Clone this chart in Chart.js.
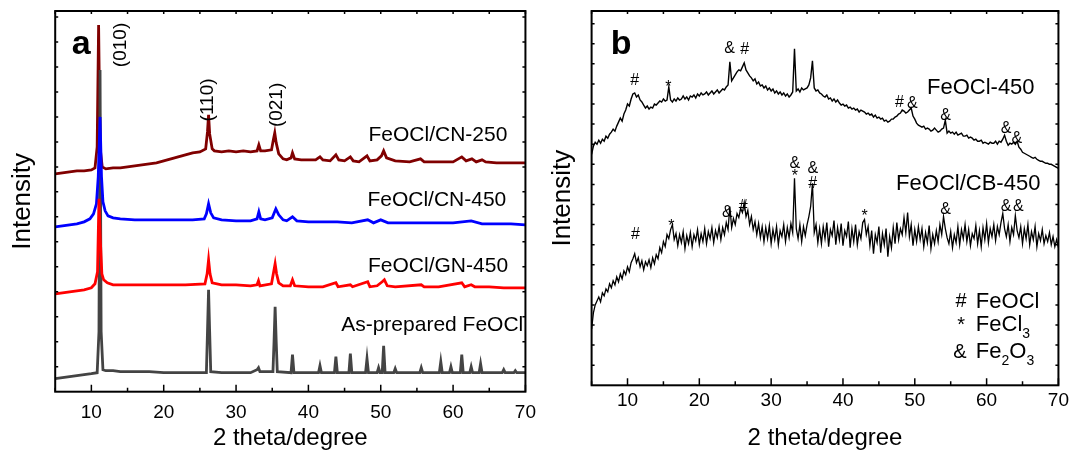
<!DOCTYPE html>
<html>
<head>
<meta charset="utf-8">
<script src="https://cdn.jsdelivr.net/npm/chart.js"></script>
<style>
  body { margin: 0; background: #fff; overflow: hidden; }
  #wrap { position: relative; width: 1071px; height: 450px; overflow: hidden; }
  #wrap canvas { position: absolute; top: 0; }
</style>
</head>
<body>
<div id="wrap">
  <canvas id="panelA" width="546" height="450" style="left:0"></canvas>
  <canvas id="panelB" width="538" height="450" style="left:535px"></canvas>
</div>
<script>
// ---- data, panel a (2 theta, intensity with offsets) ----
const cn250 = [[5,218],[6,219],[7,220],[8,221],[9,221],[10,222],[10.5,224],[10.8,245],[11.0,367],[11.2,245],[11.5,225],[12,223],
  [13,224],[14,224],[15,225],[16,226],[17,227],[18,228],[19,229],[20,231],[21,233],[22,235],[23,237],[24,239],[25,240],
  [25.8,243],[26.05,260],[26.2,277],[26.35,258],[26.7,243],[27,241],[28,240],[29,241],[30,240],[31,241],[32,240],
  [32.9,241],[33.15,247],[33.4,241],[34,241],[34.9,242],[35.15,252],[35.35,259],[35.55,249],[35.9,238],[36.5,233],
  [37,232],[37.6,234],[37.8,239],[38.1,233],[39,232],[40,232],[41,232],[41.6,235],[42,232],[43,231],[43.8,237],[44.2,232],
  [45,231],[45.8,235],[46.2,231],[47,230],[48.1,236],[48.5,231],[49.5,232],[50.1,236],[50.4,241],[50.8,234],[52,231],
  [54,230],[55.5,233],[56,230],[58,230],[60,230],[61.2,235],[61.8,231],[62.6,233],[63.2,230],[64,232],[64.5,230],
  [66,229],[68,229],[70,229]];
const cn450 = [[5,165],[6,166],[7,167],[8,168],[9,170],[9.8,173],[10.3,178],[10.7,188],[10.95,215],[11.2,275],[11.4,215],
  [11.6,190],[11.9,181],[12.3,176],[13,174],[14,173],[16,172],[18,172],[20,172],[22,172],[24,172],[25.6,173],[25.9,178],
  [26.2,188],[26.5,179],[26.9,174],[28,172],[30,171],[32,171],[32.9,173],[33.15,180],[33.4,173],[34,172],[35,174],
  [35.5,183],[35.9,177],[36.5,172],[37,171],[37.8,175],[38.4,171],[40,170],[42,170],[44,170],[46,169],[48.2,172],
  [49,169],[50,172],[51,169],[54,169],[57,169],[60,169],[62.5,171],[64,168],[66,168],[68,168],[70,167]];
const gn450 = [[5,98],[6,99],[7,100],[8,101],[9,102],[10,104],[10.5,108],[10.85,120],[11.05,193],[11.25,150],[11.45,118],
  [11.7,112],[12.2,109],[13,107],[15,107],[17,107],[19,107],[21,107],[23,107],[25.7,108],[26.0,118],[26.2,132],
  [26.4,118],[26.7,109],[28,107],[30,107],[32,106],[32.9,107],[33.1,111],[33.3,106],[34.9,108],[35.2,120],[35.4,128],
  [35.6,118],[35.9,109],[36.5,106],[37.5,106],[37.8,112],[38.1,106],[40,105],[42,105],[43.8,109],[44.1,105],[45.8,107],
  [46.1,105],[48.2,110],[48.5,105],[49.5,106],[50.2,110],[50.5,112],[50.9,106],[52,105],[55.6,107],[56,105],[58,105],
  [61.2,109],[61.6,105],[62.5,107],[63,105],[65,105],[67,104],[70,104]];
const asPrepared = [[5,13],[6,14],[7,15],[8,16],[9,17],[10,18],[10.8,19],[11.05,60],[11.2,322],[11.35,60],[11.6,22],
  [12,21],[13,21],[14,20],[16,20],[18,20],[20,19],[22,19],[24,19],[25.9,19],[26.05,60],[26.2,102],[26.35,60],[26.5,20],
  [28,19],[30,19],[32,19],[32.9,22],[33.1,24],[33.3,20],[35.1,20],[35.25,50],[35.4,85],[35.55,50],[35.7,20],[37.6,19],
  [37.8,37],[38.0,19],[41.4,19],[41.6,26],[41.8,19],[43.6,19],[43.8,35],[44.0,19],[45.6,19],[45.8,38],[46.0,19],
  [47.9,19],[48.1,33],[48.3,19],[49.5,19],[49.7,24],[49.9,19],[50.2,19],[50.4,46],[50.6,19],[51.8,19],[52,23],[52.2,19],
  [55.4,19],[55.6,24],[55.8,19],[58.1,19],[58.3,30],[58.5,19],[59.5,19],[59.7,25],[59.9,19],[61,19],[61.2,37],[61.4,19],
  [62.3,19],[62.5,25],[62.7,19],[63.6,19],[63.8,28],[64,19],[66.8,19],[67,22],[67.2,19],[68.4,19],[68.6,21],[68.8,19],[70,19]];

// ---- data, panel b (0.25 degree steps from 5 to 70) ----
const fe450 = [
  230,238,242,240,244,241,245,243, 248,246,250,252,255,253,258,262,
  266,263,270,274,280,278,285,290, 291,287,289,284,282,279,276,278,
  275,277,276,280,279,281,283,282, 285,283,284,297,284,282,285,283,
  286,284,285,288,285,287,284,288, 287,289,286,290,288,291,289,290,
  292,289,291,293,290,292,294,291, 293,295,294,297,299,322,303,306,
  309,312,314,313,317,321,314,311, 308,306,303,305,300,302,298,299,
  296,298,294,296,293,295,291,293, 290,292,289,291,288,290,287,289,
  292,335,293,295,292,296,294,295, 296,299,306,323,296,293,294,291,
  290,288,287,289,285,286,283,285, 282,284,281,279,280,278,279,276,
  277,275,276,274,275,272,274,273, 272,270,271,269,270,267,269,266,
  267,265,266,263,264,262,263,265, 265,267,268,270,271,274,273,271,
  272,274,276,268,265,261,259,258, 257,258,255,256,255,253,254,256,
  254,252,253,255,256,264,251,253, 251,252,250,252,249,250,251,248,
  248,249,246,247,246,244,245,243, 243,244,241,242,241,240,242,241,
  241,243,240,243,242,245,249,243, 239,241,240,242,240,243,237,235,
  232,231,230,229,228,227,226,227, 225,224,223,223,222,221,221,220,
  220,219,218,217,216];
const cb450 = [
  56,72,80,84,88,83,92,89, 96,93,101,97,104,100,108,103,
  111,106,114,110,118,113,122,126, 131,122,127,118,124,115,123,119,
  125,117,127,121,130,126,137,132, 143,138,150,146,155,160,145,151,
  139,150,142,153,136,149,141,152, 138,150,144,155,140,151,143,156,
  141,153,146,157,142,154,147,158, 145,157,150,162,155,178,157,166,
  160,171,167,176,172,182,168,174, 160,168,155,163,150,161,147,158,
  143,157,146,159,141,155,145,158, 140,154,148,160,143,157,147,161,
  152,206,156,146,160,143,158,149, 160,168,178,201,152,160,142,156,
  141,158,146,162,138,155,149,164, 140,157,145,161,139,154,148,163,
  137,156,143,160,140,153,146,162, 165,150,158,139,154,131,150,142,
  158,132,151,140,156,128,148,137, 157,141,162,145,156,150,167,152,
  172,148,160,139,155,143,158,145, 156,138,152,142,159,136,150,141,
  154,143,160,150,168,156,147,141, 153,137,150,142,158,140,155,146,
  160,143,155,139,151,146,159,141, 154,138,157,145,161,142,156,148,
  160,144,158,150,162,171,156,148, 160,143,157,150,169,154,147,158,
  141,156,146,160,140,153,145,158, 138,151,144,155,141,149,143,152,
  140,148,138,145,137];
const thetaB = fe450.map((_, i) => 5 + i * 0.25);

const xTicks = [10, 20, 30, 40, 50, 60, 70];
const xMinor = [5, 15, 25, 35, 45, 55, 65];

const FONT = '"Liberation Sans", Arial, sans-serif';

const notesA = [
  { t: 'a', x: 8.6, y: 347, size: 34, bold: true },
  { t: '(010)', x: 14.1, y: 347, size: 19, rot: true },
  { t: '(110)', x: 26.1, y: 292, size: 19, rot: true },
  { t: '(021)', x: 35.6, y: 287, size: 19, rot: true },
  { t: 'FeOCl/CN-250', x: 67.5, y: 257, size: 21, align: 'right' },
  { t: 'FeOCl/CN-450', x: 67.35, y: 192, size: 21, align: 'right' },
  { t: 'FeOCl/GN-450', x: 67.6, y: 126, size: 21, align: 'right' },
  { t: 'As-prepared FeOCl', x: 69.7, y: 67, size: 21, align: 'right' }
];
const notesB = [
  { t: 'b', x: 9.1, y: 339, size: 34, bold: true },
  { t: 'FeOCl-450', x: 51.7, y: 296, size: 22, align: 'left' },
  { t: 'FeOCl/CB-450', x: 47.4, y: 200, size: 22, align: 'left' },
  // phase marks, upper pattern
  { t: '#', x: 11.0, y: 303, size: 16 }, { t: '*', x: 15.7, y: 296, size: 16 },
  { t: '&', x: 24.2, y: 335, size: 16 }, { t: '#', x: 26.3, y: 334, size: 16 },
  { t: '#', x: 47.85, y: 281, size: 16 }, { t: '&', x: 49.65, y: 280, size: 16 },
  { t: '&', x: 54.3, y: 268, size: 16 }, { t: '&', x: 62.7, y: 256, size: 16 },
  { t: '&', x: 64.2, y: 246, size: 16 },
  // phase marks, lower pattern
  { t: '#', x: 11.1, y: 150, size: 16 }, { t: '*', x: 16.1, y: 158, size: 16 },
  { t: '&', x: 23.9, y: 172, size: 16 }, { t: '#', x: 26.1, y: 178, size: 16 },
  { t: '&', x: 33.3, y: 221, size: 16 }, { t: '*', x: 33.3, y: 208, size: 16 },
  { t: '&', x: 35.8, y: 216, size: 16 }, { t: '#', x: 35.8, y: 201, size: 16 },
  { t: '*', x: 43.0, y: 168, size: 16 }, { t: '&', x: 54.3, y: 175, size: 16 },
  { t: '&', x: 62.7, y: 178, size: 16 }, { t: '&', x: 64.4, y: 178, size: 16 },
  // key
  { t: '#', x: 56.45, y: 83, size: 20 }, { t: '*', x: 56.45, y: 60, size: 20 }, { t: '&', x: 56.3, y: 33, size: 20 },
  { parts: [['FeOCl', 0]], x: 58.5, y: 83, size: 22, align: 'left' },
  { parts: [['FeCl', 0], ['3', 1]], x: 58.5, y: 60, size: 22, align: 'left' },
  { parts: [['Fe', 0], ['2', 1], ['O', 0], ['3', 1]], x: 58.5, y: 33, size: 22, align: 'left' }
];

const frame = (yStep) => ({
  id: 'frame',
  afterDatasetsDraw(chart) {
    const { ctx, chartArea: a, scales: { x, y } } = chart;
    ctx.save();
    ctx.strokeStyle = '#000';
    ctx.lineWidth = 1.5;
    ctx.beginPath();
    xTicks.concat(xMinor).forEach(v => {
      const px = x.getPixelForValue(v);
      const len = xTicks.includes(v) ? 7 : 4;
      ctx.moveTo(px, a.bottom); ctx.lineTo(px, a.bottom - len);
      ctx.moveTo(px, a.top); ctx.lineTo(px, a.top + 3);
    });
    for (let v = yStep; v < y.max; v += yStep) {
      const py = y.getPixelForValue(v);
      ctx.moveTo(a.left, py); ctx.lineTo(a.left + 3, py);
      ctx.moveTo(a.right, py); ctx.lineTo(a.right - 3, py);
    }
    ctx.stroke();
    ctx.lineWidth = 2;
    ctx.strokeRect(a.left, a.top, a.right - a.left, a.bottom - a.top);
    ctx.restore();
  }
});

const notes = (items) => ({
  id: 'notes',
  afterDatasetsDraw(chart) {
    const { ctx, scales: { x, y } } = chart;
    ctx.save();
    ctx.fillStyle = '#000';
    ctx.textBaseline = 'middle';
    items.forEach(it => {
      const parts = it.parts || [[it.t, 0]];
      ctx.save();
      ctx.translate(x.getPixelForValue(it.x), y.getPixelForValue(it.y));
      if (it.rot) ctx.rotate(-Math.PI / 2);
      const fontOf = (sub) => (it.bold ? 'bold ' : '') + (sub ? Math.round(it.size * 0.65) : it.size) + 'px ' + FONT;
      let w = 0;
      parts.forEach(([s, sub]) => { ctx.font = fontOf(sub); w += ctx.measureText(s).width; });
      let cx = it.align === 'right' ? -w : it.align === 'left' ? 0 : -w / 2;
      ctx.textAlign = 'left';
      parts.forEach(([s, sub]) => {
        ctx.font = fontOf(sub);
        ctx.fillText(s, cx, sub ? it.size * 0.42 : 0);
        cx += ctx.measureText(s).width;
      });
      ctx.restore();
    });
    ctx.restore();
  }
});

const pts = (arr) => arr.map(([x, y]) => ({ x, y }));

function axes(yMax, tickPad, xTitlePad, yTitlePad) {
  return {
    x: {
      type: 'linear', min: 5, max: 70,
      afterBuildTicks: s => { s.ticks = xTicks.map(v => ({ value: v })); },
      grid: { display: false, drawTicks: false }, border: { display: false },
      ticks: { color: '#000', padding: tickPad, maxRotation: 0, font: { family: FONT, size: 19 } },
      title: { display: true, text: '2 theta/degree', color: '#000', padding: xTitlePad,
               font: { family: FONT, size: 24, lineHeight: 1 } }
    },
    y: {
      min: 0, max: yMax,
      ticks: { display: false }, grid: { display: false, drawTicks: false }, border: { display: false },
      title: { display: true, text: 'Intensity', color: '#000', padding: yTitlePad,
               font: { family: FONT, size: 26, lineHeight: 1.2 } }
    }
  };
}

const common = {
  responsive: false, animation: false,
  plugins: { legend: { display: false }, tooltip: { enabled: false } },
  elements: { point: { radius: 0 }, line: { tension: 0 } }
};

new Chart(document.getElementById('panelA'), {
  type: 'line',
  data: {
    datasets: [
      { data: pts(gn450), borderColor: '#ff0000', borderWidth: 2.8, order: 1 },
      { data: pts(cn450), borderColor: '#0000ff', borderWidth: 2.8, order: 2 },
      { data: pts(asPrepared), borderColor: '#444444', borderWidth: 2.8, order: 3 },
      { data: pts(cn250), borderColor: '#800000', borderWidth: 2.8, order: 4 }
    ]
  },
  options: Object.assign({}, common, {
    layout: { padding: { top: 11, right: 0, left: 0, bottom: 0 } },
    scales: axes(381, 10, { top: -8.5, bottom: 0 }, { top: 7, bottom: 17 })
  }),
  plugins: [frame(25), notes(notesA)]
});

new Chart(document.getElementById('panelB'), {
  type: 'line',
  data: {
    labels: thetaB,
    datasets: [
      { data: thetaB.map((t, i) => ({ x: t, y: fe450[i] })), borderColor: '#000', borderWidth: 1.4 },
      { data: thetaB.map((t, i) => ({ x: t, y: cb450[i] })), borderColor: '#000', borderWidth: 1.3 }
    ]
  },
  options: Object.assign({}, common, {
    layout: { padding: { top: 11, right: 11, left: 0, bottom: 0 } },
    scales: axes(372.6, 4, { top: 9.9, bottom: 0 }, { top: 12, bottom: 13.4 })
  }),
  plugins: [frame(20), notes(notesB)]
});
</script>
</body>
</html>
